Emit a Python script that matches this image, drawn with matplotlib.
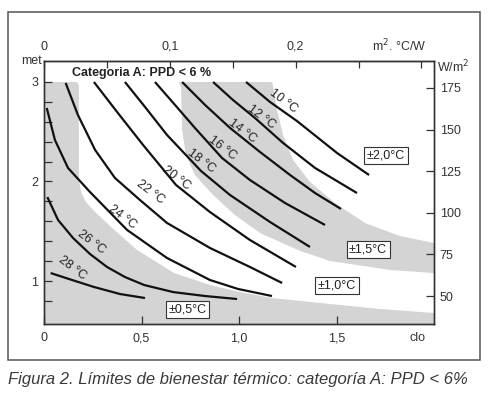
import matplotlib
matplotlib.use("Agg")
import matplotlib.pyplot as plt
from matplotlib.patches import Rectangle
import matplotlib.transforms as mtransforms

plt.rcParams['font.family'] = ['Liberation Sans', 'DejaVu Sans']

# comfort lines (clo, met), one per operative temperature
c10_clo = [1.036, 1.159, 1.297, 1.503, 1.667]
c10_met = [3.0, 2.799, 2.608, 2.286, 2.065]
c12_clo = [0.867, 0.969, 1.082, 1.226, 1.390, 1.605]
c12_met = [3.0, 2.819, 2.638, 2.387, 2.136, 1.884]
c14_clo = [0.708, 0.826, 0.954, 1.108, 1.262, 1.390, 1.523]
c14_met = [3.0, 2.769, 2.538, 2.296, 2.065, 1.884, 1.724]
c16_clo = [0.569, 0.672, 0.774, 0.913, 1.056, 1.236, 1.441]
c16_met = [3.0, 2.769, 2.538, 2.236, 2.015, 1.784, 1.563]
c18_clo = [0.415, 0.518, 0.631, 0.805, 0.954, 1.159, 1.364]
c18_met = [3.0, 2.749, 2.467, 2.106, 1.864, 1.593, 1.342]
c20_clo = [0.256, 0.379, 0.508, 0.677, 0.851, 1.056, 1.292]
c20_met = [3.0, 2.688, 2.367, 1.965, 1.693, 1.412, 1.141]
c22_clo = [0.111, 0.174, 0.262, 0.364, 0.492, 0.631, 0.851, 1.056, 1.221]
c22_met = [2.99, 2.668, 2.317, 2.035, 1.814, 1.583, 1.332, 1.141, 0.980]
c24_clo = [0.014, 0.056, 0.123, 0.236, 0.426, 0.631, 0.851, 0.995, 1.169]
c24_met = [2.739, 2.417, 2.136, 1.894, 1.513, 1.231, 1.010, 0.920, 0.849]
c26_clo = [0.017, 0.072, 0.149, 0.236, 0.323, 0.415, 0.513, 0.662, 0.826, 0.990]
c26_met = [1.844, 1.613, 1.432, 1.271, 1.141, 1.040, 0.960, 0.889, 0.849, 0.819]
c28_clo = [0.034, 0.144, 0.256, 0.390, 0.518]
c28_met = [1.080, 1.010, 0.940, 0.869, 0.829]

temp_labels = ['10 °C', '12 °C', '14 °C', '16 °C', '18 °C',
               '20 °C', '22 °C', '24 °C', '26 °C', '28 °C']
label_clo = [1.226, 1.113, 1.015, 0.913, 0.805, 0.677, 0.544, 0.400, 0.241, 0.144]
label_met = [2.809, 2.648, 2.508, 2.337, 2.206, 2.035, 1.894, 1.643, 1.392, 1.131]

# tolerance zones (gray)
zone05_clo = [0, 0.169, 0.179, 0.179, 0.190, 0.215, 0.262, 0.344, 0.477, 0.667,
              0.851, 1.005, 1.169, 1.467, 1.723, 2.0, 2.0, 0]
zone05_met = [3.0, 3.0, 2.96, 2.015, 1.894, 1.794, 1.693, 1.543, 1.312, 1.080,
              0.960, 0.889, 0.829, 0.769, 0.719, 0.678, 0.5, 0.5]
zone15_clo = [0.692, 0.703, 0.708, 0.728, 0.774, 0.867, 0.979, 1.108, 1.313, 1.467,
              1.774, 2.0, 2.0, 1.826, 1.646, 1.492, 1.364, 1.277, 1.226, 1.195, 1.179, 1.169]
zone15_met = [3.0, 2.94, 2.518, 2.266, 2.065, 1.864, 1.663, 1.482, 1.302, 1.201,
              1.111, 1.080, 1.382, 1.452, 1.583, 1.784, 1.995, 2.216, 2.467, 2.719, 2.920, 3.0]

zone_labels = ['±0,5°C', '±1,0°C', '±1,5°C', '±2,0°C']
zone_clo = [0.736, 1.503, 1.662, 1.754]
zone_met = [0.714, 0.950, 1.312, 2.261]

clo_ticks = [0, 0.5, 1.0, 1.5]
clo_ticklabels = ['0', '0,5', '1,0', '1,5']
rcl_ticks = [0, 0.05, 0.1, 0.15, 0.2, 0.25, 0.3]
rcl_ticklabels = ['0', '', '0,1', '', '0,2', '', '']
met_ticks = [1, 2, 3]
met_minor = [0.8, 1.2, 1.4, 1.6, 1.8, 2.2, 2.4, 2.6, 2.8]
wm2_ticks = [50, 75, 100, 125, 150, 175]

gray = '#d4d4d4'
ink = '#333333'

fig = plt.figure(figsize=(4.95, 3.97), dpi=100)
fig.patches.append(Rectangle((0.0162, 0.0932), 0.9535, 0.8766, transform=fig.transFigure,
                             fill=False, edgecolor='#555555', lw=1.1))

ax = fig.add_axes([0.0889, 0.1839, 0.7879, 0.6625])
ax.set_xlim(0, 2.0)
ax.set_ylim(0.568, 3.211)

ax.fill(zone05_clo, zone05_met, color=gray, lw=0, zorder=1)
ax.fill(zone15_clo, zone15_met, color=gray, lw=0, zorder=1)

curves = [(c10_clo, c10_met), (c12_clo, c12_met), (c14_clo, c14_met), (c16_clo, c16_met),
          (c18_clo, c18_met), (c20_clo, c20_met), (c22_clo, c22_met), (c24_clo, c24_met),
          (c26_clo, c26_met), (c28_clo, c28_met)]
for xs, ys in curves:
    ax.plot(xs, ys, color='#111111', lw=1.6, solid_joinstyle='round', solid_capstyle='butt', zorder=3)

for txt, x, y in zip(temp_labels, label_clo, label_met):
    ax.text(x, y, txt, rotation=-37, ha='center', va='center', fontsize=9, color='#222222', zorder=4)

for txt, x, y in zip(zone_labels, zone_clo, zone_met):
    ax.text(x, y, txt, ha='center', va='center', fontsize=9, color='#222222', zorder=5,
            bbox=dict(boxstyle='square,pad=0.2', fc='white', ec='#333333', lw=0.8))

ax.text(0.0718, 0.954, 'Categoria A: PPD < 6 %', transform=ax.transAxes,
        ha='left', va='center', fontsize=9, fontweight='bold', color='#222222')

# axes and ticks
ax.set_xticks(clo_ticks)
ax.set_xticklabels(clo_ticklabels)
ax.set_yticks(met_ticks)
ax.set_yticks(met_minor, minor=True)
ax.tick_params(axis='both', which='both', direction='in', length=6, width=0.9,
               colors=ink, labelsize=9, top=False, right=False)
ax.tick_params(axis='x', pad=6)
ax.tick_params(axis='y', pad=4)
for s in ax.spines.values():
    s.set_color(ink)
    s.set_linewidth(1.0)

top = ax.secondary_xaxis('top', functions=(lambda c: c * 0.155, lambda r: r / 0.155))
top.set_xticks(rcl_ticks)
top.set_xticklabels(rcl_ticklabels)
top.tick_params(direction='in', length=5, width=0.9, colors=ink, labelsize=9, pad=6)

ax2 = ax.twinx()
ax2.set_ylim(33.2, 191.2)
ax2.set_yticks(wm2_ticks)
ax2.tick_params(direction='in', length=6, width=0.9, colors=ink, labelsize=9, pad=4)
for s in ax2.spines.values():
    s.set_color(ink)
    s.set_linewidth(1.0)

ax.text(-0.006, 1.0, 'met', transform=ax.transAxes, ha='right', va='center', fontsize=9, color=ink)
ax.text(1.008, 0.977, 'W/m$^2$', transform=ax.transAxes, ha='left', va='center', fontsize=9, color=ink)
trans = mtransforms.blended_transform_factory(ax.transData, ax.transAxes)
ax.text(1.913, -0.053, 'clo', transform=trans, ha='center', va='center', fontsize=9, color=ink)
ax.text(0.91, 1.057, 'm$^2$. °C/W', transform=ax.transAxes, ha='center', va='center', fontsize=9, color=ink)

fig.text(0.017, 0.043, 'Figura 2. Límites de bienestar térmico: categoría A: PPD < 6%',
         ha='left', va='center', fontsize=12, style='italic', color='#3a3a3a')

fig.savefig('out.png', dpi=100)
